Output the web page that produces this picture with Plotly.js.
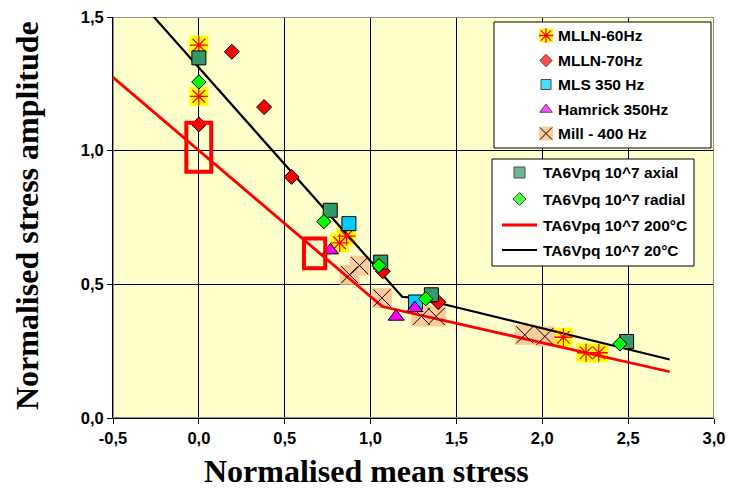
<!DOCTYPE html>
<html>
<head>
<meta charset="utf-8">
<script src="https://cdn.plot.ly/plotly-3.0.1.min.js"></script>
<style>html,body{margin:0;padding:0;background:#fff;}#chart{width:730px;height:489px;}</style>
</head>
<body>
<div id="chart"></div>
<script>
// ---- data ----
const seriesNames = ["MLLN-60Hz", "MLLN-70Hz", "MLS 350 Hz", "Hamrick 350Hz", "Mill - 400 Hz",
                     "TA6Vpq 10^7 axial", "TA6Vpq 10^7 radial", "TA6Vpq 10^7 200°C", "TA6Vpq 10^7 20°C"];

const xMLLN60 = [0.0, 0.0, 0.82, 0.86, 2.123, 2.255, 2.329];
const yMLLN60 = [1.395, 1.203, 0.655, 0.68, 0.302, 0.244, 0.244];

const xMLLN70 = [0.0, 0.192, 0.38, 0.54, 1.071, 1.395];
const yMLLN70 = [1.098, 1.37, 1.163, 0.902, 0.549, 0.433];

const xMLS = [0.874, 1.262];
const yMLS = [0.727, 0.434];

const xHamrick = [0.767, 1.149, 1.258];
const yHamrick = [0.627, 0.379, 0.411];

const xMill = [0.878, 0.936, 1.066, 1.296, 1.382, 1.898, 2.015];
const yMill = [0.536, 0.570, 0.449, 0.380, 0.380, 0.311, 0.305];

const xAxial = [0.0, 0.765, 1.059, 1.354, 2.491];
const yAxial = [1.347, 0.777, 0.583, 0.461, 0.286];

const xRadial = [0.0, 0.728, 1.049, 1.321, 2.452];
const yRadial = [1.257, 0.735, 0.570, 0.446, 0.277];

const x200C = [-0.5, 1.068, 2.742];
const y200C = [1.274, 0.417, 0.173];

const x20C = [-0.31, 1.185, 1.277, 2.742];
const y20C = [1.535, 0.453, 0.449, 0.219];

// highlighted regions (red boxes): [x0, x1, y0, y1]
const boxX0 = [-0.073, 0.612];
const boxX1 = [0.072, 0.736];
const boxY0 = [0.921, 0.560];
const boxY1 = [1.104, 0.671];

const xTicks = [-0.5, 0.0, 0.5, 1.0, 1.5, 2.0, 2.5, 3.0];
const xTickText = ["-0,5", "0,0", "0,5", "1,0", "1,5", "2,0", "2,5", "3,0"];
const yTicks = [0.0, 0.5, 1.0, 1.5];
const yTickText = ["0,0", "0,5", "1,0", "1,5"];

// ---- styles ----
const SANS = "Liberation Sans, Arial, sans-serif";
const SERIF = "Liberation Serif, Times New Roman, serif";
const C = {
  yellow: "#FFFF00", red: "#FF0000", cyan: "#00CCFF", magenta: "#FF00FF",
  peach: "#FFCC99", sea: "#339966", lime: "#00FF00", black: "#000000"
};

// plot area in page pixels (used for the hand-built legend overlay)
const PX = {l: 113, r: 714, t: 17, b: 418};
const XR = [-0.5, 3.0], YR = [0, 1.5];
const px2x = p => XR[0] + (p - PX.l) / (PX.r - PX.l) * (XR[1] - XR[0]);
const px2y = p => YR[0] + (PX.b - p) / (PX.b - PX.t) * (YR[1] - YR[0]);

function sc(x, y, marker, extra) {
  return Object.assign({type: "scatter", mode: "markers", x: x, y: y, marker: marker,
    showlegend: false, hoverinfo: "x+y", cliponaxis: false}, extra || {});
}

const traces = [
  sc(xMLLN60, yMLLN60, {symbol: "square", size: 19, color: C.yellow, line: {width: 0}}, {name: seriesNames[0]}),
  sc(xMill, yMill, {symbol: "square", size: 20, color: C.peach, line: {width: 0}}, {name: seriesNames[4]}),
  {type: "scatter", mode: "lines", x: x200C, y: y200C, name: seriesNames[7], showlegend: false,
   line: {color: C.red, width: 2.8}},
  {type: "scatter", mode: "lines", x: x20C, y: y20C, name: seriesNames[8], showlegend: false,
   line: {color: C.black, width: 2.2}},
  sc(xMLLN60, yMLLN60, {symbol: "asterisk-open", size: 15, color: C.red, line: {color: C.red, width: 1.3}}, {name: seriesNames[0]}),
  sc(xMill, yMill, {symbol: "x-thin-open", size: 17, color: C.black, line: {color: C.black, width: 1}}, {name: seriesNames[4]}),
  sc(xMLLN70, yMLLN70, {symbol: "diamond", size: 11.5, color: C.red, line: {color: C.black, width: 1}}, {name: seriesNames[1]}),
  sc(xMLS, yMLS, {symbol: "square", size: 14, color: C.cyan, line: {color: C.black, width: 1}}, {name: seriesNames[2]}),
  sc(xHamrick, yHamrick, {symbol: "triangle-up", size: 14, color: C.magenta, line: {color: C.black, width: 1}}, {name: seriesNames[3]}),
  sc(xAxial, yAxial, {symbol: "square", size: 14, color: C.sea, line: {color: C.black, width: 1}}, {name: seriesNames[5]}),
  sc(xRadial, yRadial, {symbol: "diamond", size: 11, color: C.lime, line: {color: C.black, width: 1}}, {name: seriesNames[6]})
];

// ---- hand-built legend ----
const L1 = {x0: 494, x1: 711, y0: 22, y1: 148, iconX: 546, textX: 556, rows: [35.5, 60.5, 84.5, 109.5, 133.5]};
const L2 = {x0: 492, x1: 694, y0: 159, y1: 266, iconX: 519.5, lineX0: 502, lineX1: 537, textX: 541, rows: [172.5, 199, 225, 250]};

function ov(t) { return Object.assign({xaxis: "x2", yaxis: "y2", showlegend: false, hoverinfo: "skip", cliponaxis: false}, t); }

const r1 = L1.rows, r2 = L2.rows;
traces.push(
  ov({type: "scatter", mode: "markers", x: [L1.iconX, L1.iconX], y: [r1[0], r1[4]],
      marker: {symbol: "square", size: 14, color: [C.yellow, C.peach], line: {width: 0}}}),
  ov({type: "scatter", mode: "markers", x: [L1.iconX], y: [r1[0]],
      marker: {symbol: "asterisk-open", size: 12, color: C.red, line: {color: C.red, width: 1.3}}}),
  ov({type: "scatter", mode: "markers", x: [L1.iconX], y: [r1[4]],
      marker: {symbol: "x-thin-open", size: 12, color: C.black, line: {color: C.black, width: 1}}}),
  ov({type: "scatter", mode: "markers", x: [L1.iconX, L1.iconX, L1.iconX], y: [r1[1], r1[2], r1[3]],
      marker: {symbol: ["diamond", "square", "triangle-up"], size: [9.5, 10, 11],
               color: [C.red, C.cyan, C.magenta], line: {color: C.black, width: 1}}}),
  ov({type: "scatter", mode: "markers", x: [L2.iconX, L2.iconX], y: [r2[0], r2[1]],
      marker: {symbol: ["square", "diamond"], size: [11, 10], color: [C.sea, C.lime], line: {color: C.black, width: 1}}}),
  ov({type: "scatter", mode: "lines", x: [L2.lineX0, L2.lineX1], y: [r2[2], r2[2]], line: {color: C.red, width: 3.2}}),
  ov({type: "scatter", mode: "lines", x: [L2.lineX0, L2.lineX1], y: [r2[3], r2[3]], line: {color: C.black, width: 2}})
);

const legFont = {family: SANS, size: 15.5, color: "#000", weight: "bold"};
const annotations = [];
[0, 1, 2, 3, 4].forEach((k, i) => annotations.push({xref: "paper", yref: "paper",
  x: (L1.textX - PX.l) / (PX.r - PX.l), y: (PX.b - r1[i]) / (PX.b - PX.t),
  xanchor: "left", yanchor: "middle", showarrow: false, text: seriesNames[k], font: legFont}));
[5, 6, 7, 8].forEach((k, i) => annotations.push({xref: "paper", yref: "paper",
  x: (L2.textX - PX.l) / (PX.r - PX.l), y: (PX.b - r2[i]) / (PX.b - PX.t),
  xanchor: "left", yanchor: "middle", showarrow: false, text: seriesNames[k], font: legFont}));

annotations.push({xref: "paper", yref: "paper", x: (366 - PX.l) / (PX.r - PX.l), y: (PX.b - 471) / (PX.b - PX.t),
  xanchor: "center", yanchor: "middle", showarrow: false,
  text: "Normalised mean stress", font: {family: SERIF, size: 32, color: "#000", weight: "bold"}});
annotations.push({xref: "paper", yref: "paper", x: (27 - PX.l) / (PX.r - PX.l), y: (PX.b - 216) / (PX.b - PX.t),
  xanchor: "center", yanchor: "middle", showarrow: false, textangle: -90,
  text: "Normalised stress amplitude", font: {family: SERIF, size: 32, color: "#000", weight: "bold"}});

function pxRect(x0, x1, y0, y1, extra) {
  return Object.assign({type: "rect", xref: "x", yref: "y", x0: px2x(x0), x1: px2x(x1), y0: px2y(y1), y1: px2y(y0)}, extra);
}
const shapes = [
  {type: "rect", xref: "x", yref: "y", x0: XR[0], x1: XR[1], y0: YR[0], y1: YR[1],
   line: {color: "#8c8c8c", width: 2}, fillcolor: "rgba(0,0,0,0)", layer: "between"},
  pxRect(L1.x0, L1.x1, L1.y0, L1.y1, {fillcolor: "#fff", line: {color: "#000", width: 1}, layer: "between"}),
  pxRect(L2.x0, L2.x1, L2.y0, L2.y1, {fillcolor: "#fff", line: {color: "#000", width: 1}, layer: "between"})
];
boxX0.forEach((v, i) => shapes.push({type: "rect", xref: "x", yref: "y", x0: boxX0[i], x1: boxX1[i], y0: boxY0[i], y1: boxY1[i],
  line: {color: C.red, width: 4}, fillcolor: "rgba(0,0,0,0)", layer: "above"}));

const tickFont = {family: SANS, size: 16.5, color: "#000", weight: "bold"};
const layout = {
  width: 730, height: 489,
  margin: {l: PX.l, r: 730 - PX.r, t: PX.t, b: 489 - PX.b, pad: 0},
  paper_bgcolor: "#ffffff", plot_bgcolor: "#FFFFCC",
  showlegend: false,
  xaxis: {range: XR, tickmode: "array", tickvals: xTicks, ticktext: xTickText, ticks: "outside", ticklen: 5, tickcolor: "#000",
          showgrid: true, gridcolor: "#000", gridwidth: 1, showline: true, linecolor: "#000", linewidth: 1,
          zeroline: false, tickfont: tickFont, fixedrange: true},
  yaxis: {range: YR, tickmode: "array", tickvals: yTicks, ticktext: yTickText, ticks: "outside", ticklen: 5, tickcolor: "#000",
          showgrid: true, gridcolor: "#000", gridwidth: 1, showline: true, linecolor: "#000", linewidth: 1,
          zeroline: false, tickfont: tickFont, fixedrange: true},
  xaxis2: {overlaying: "x", anchor: "y2", range: [PX.l, PX.r], visible: false, fixedrange: true},
  yaxis2: {overlaying: "y", anchor: "x2", range: [PX.b, PX.t], autorange: false, visible: false, fixedrange: true},
  shapes: shapes,
  annotations: annotations
};

Plotly.newPlot("chart", traces, layout, {displayModeBar: false, staticPlot: true});
</script>
</body>
</html>
